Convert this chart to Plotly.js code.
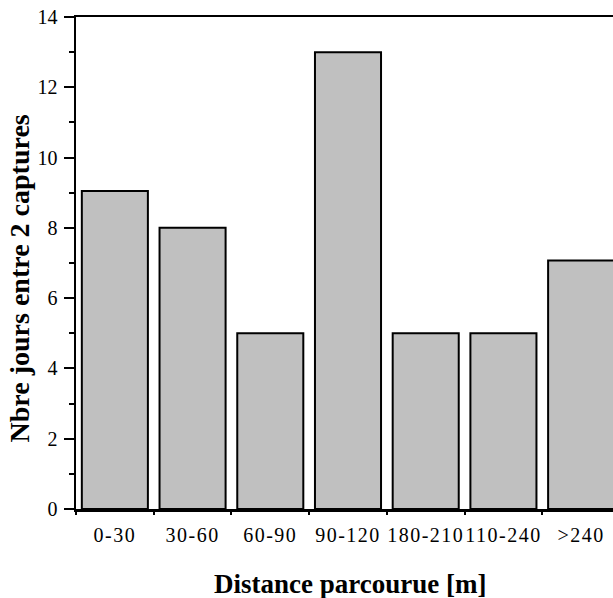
<!DOCTYPE html>
<html>
<head>
<meta charset="utf-8">
<script src="https://cdn.plot.ly/plotly-3.0.1.min.js"></script>
<style>
html, body { margin: 0; padding: 0; overflow: hidden; background: #fff; }
#chart { width: 620px; height: 598px; }
.xtick text { letter-spacing: 1.5px; }
</style>
</head>
<body>
<div id="chart"></div>
<script>
const categories = ["0-30", "30-60", "60-90", "90-120", "180-210", "110-240", ">240"];
const values = [9.05, 8, 5, 13, 5, 5, 7.07];
const yTickValues = [0, 2, 4, 6, 8, 10, 12, 14];
const xTitle = "Distance parcourue [m]";
const yTitle = "Nbre jours entre 2 captures";

const serif = "Liberation Serif, Times New Roman, serif";

const trace = {
  type: "bar",
  x: categories,
  y: values,
  marker: { color: "#c0c0c0", line: { color: "#000", width: 2 } },
  hoverinfo: "none"
};

const layout = {
  width: 620,
  height: 598,
  margin: { l: 76, r: 0, t: 17, b: 89 },
  paper_bgcolor: "#fff",
  plot_bgcolor: "#fff",
  showlegend: false,
  bargap: 0.15,
  font: { family: serif, color: "#000", size: 19 },
  xaxis: {
    type: "category",
    showgrid: false,
    zeroline: false,
    showline: true,
    linecolor: "#000",
    linewidth: 2.5,
    mirror: true,
    ticks: "outside",
    tickson: "boundaries",
    ticklen: 3,
    tickwidth: 2,
    tickcolor: "#000",
    ticklabelstandoff: 6,
    tickfont: { family: serif, size: 20, color: "#000" },
    automargin: false
  },
  yaxis: {
    range: [0, 14],
    showgrid: false,
    zeroline: false,
    showline: true,
    linecolor: "#000",
    linewidth: 2.5,
    mirror: true,
    tickmode: "array",
    tickvals: yTickValues,
    ticktext: yTickValues.map(String),
    ticks: "outside",
    ticklen: 10,
    tickwidth: 2,
    tickcolor: "#000",
    ticklabelstandoff: 2,
    minor: { dtick: 1, ticks: "outside", ticklen: 5, tickwidth: 2, tickcolor: "#000", showgrid: false },
    tickfont: { family: serif, size: 20, color: "#000" },
    automargin: false
  },
  annotations: [
    {
      text: xTitle, xref: "paper", yref: "paper", x: 0.504, y: -0.152,
      xanchor: "center", yanchor: "middle", showarrow: false,
      font: { family: serif, size: 27, color: "#000", weight: "bold" }
    },
    {
      text: yTitle, xref: "paper", yref: "paper", x: -0.104, y: 0.4695,
      xanchor: "center", yanchor: "middle", showarrow: false, textangle: -90,
      font: { family: serif, size: 28, color: "#000", weight: "bold" }
    }
  ]
};

Plotly.newPlot("chart", [trace], layout, { displayModeBar: false, staticPlot: true });
</script>
</body>
</html>
